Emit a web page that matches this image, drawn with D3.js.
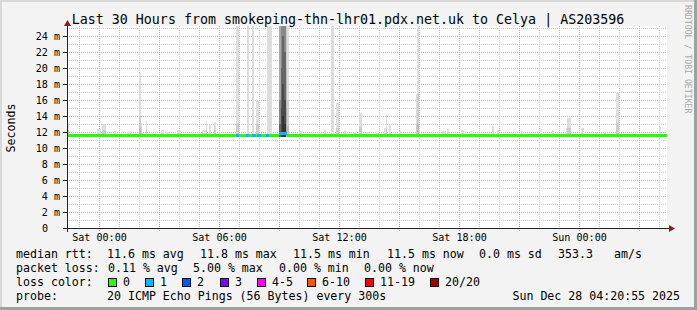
<!DOCTYPE html>
<html>
<head>
<meta charset="utf-8">
<script src="https://cdn.jsdelivr.net/npm/d3@7/dist/d3.min.js"></script>
<style>
  body { margin: 0; background: #f3f3f3; }
  text { font-family: "DejaVu Sans Mono", monospace; fill: #000; white-space: pre; }
</style>
</head>
<body>
<div id="chart"></div>
<script>
// ---- data ----
var titleText = 'Last 30 Hours from smokeping-thn-lhr01.pdx.net.uk to Celya | AS203596';
var yTicks = [0, 2, 4, 6, 8, 10, 12, 14, 16, 18, 20, 22, 24];

// minutes relative to Sat 00:00, 5 minute steps
var smokeMin   = [-95, -5, 10, 45, 85, 120, 125, 140, 185, 200, 235, 310, 320, 330, 345,
                  410, 445, 460, 470, 505, 540, 545, 550, 555, 560, 565, 600, 675, 695, 710,
                  735, 765, 780, 800, 830, 855, 860, 870, 900, 950, 955, 1030, 1045, 1085,
                  1115, 1180, 1195, 1265, 1325, 1360, 1400, 1405, 1445, 1490, 1515, 1550, 1680];
var smokeSteps = [1, 2, 2, 1, 2, 1, 1, 1, 2, 2, 2, 2, 1, 1, 1,
                  2, 1, 1, 2, 3, 1, 1, 1, 1, 1, 1, 2, 1, 2, 2,
                  1, 1, 2, 2, 2, 1, 1, 1, 1, 2, 1, 2, 1, 2,
                  1, 1, 1, 1, 1, 1, 1, 2, 2, 1, 1, 2, 1];
// ping spread per step in ms, outermost ping first
var smokeLevels = [
  [13.1, 12.3], [12.4], [13.0, 12.2], [12.1], [12.0], [19.4, 14.0, 12.5], [13.1, 12.3],
  [13.4, 12.4], [12.2], [12.0], [12.2], [12.2], [13.4, 12.3], [12.9], [13.2, 12.2],
  [30, 13], [30], [30], [15.9, 13], [30],
  [30, 30, 30, 26, 16, 13], [30, 30, 30, 30, 26, 20, 15], [30, 30, 30, 30, 30, 24, 18, 14],
  [30, 30, 30, 30, 28, 22, 16, 13], [30, 28, 20, 15], [26, 16, 12.8],
  [12.1], [12.2], [30], [15.6, 12.5], [12.2], [12.0], [14.4, 12.6], [12.0], [12.0],
  [12.5], [14.1, 12.4], [12.9], [12.1], [16.8, 13], [30, 16.8, 13], [12.1], [12.4], [12.3],
  [12.1], [12.7], [12.2], [12.3], [12.4], [12.2], [12.5], [13.7, 12.5], [12.5], [12.0],
  [12.0], [16.9, 13.2], [12.6]
];

var medianFrom = [-96, 540, 565];
var medianTo   = [540, 565, 1704];
var medianMs   = [11.55, 11.8, 11.55];

var lossMin   = [410, 440, 460, 475, 500, 540];
var lossSteps = [2, 2, 2, 2, 2, 5];
var lossCount = [1, 1, 1, 1, 1, 1];

var lossLabels = ['0', '1', '2', '3', '4-5', '6-10', '11-19', '20/20'];
var lossColors = ['#26ff00', '#00b8ff', '#0059ff', '#7e00ff', '#ff00ff', '#ff5500', '#ff0000', '#a10000'];

var rttText  = ['median rtt:', '11.6 ms avg', '11.8 ms max', '11.5 ms min', '11.5 ms now', '0.0 ms sd', '353.3', 'am/s'];
var lossText = ['packet loss:', '0.11 % avg', '5.00 % max', '0.00 % min', '0.00 % now'];
var probeText = ['probe:', '20 ICMP Echo Pings (56 Bytes) every 300s'];
var stampText = 'Sun Dec 28 04:20:55 2025';

// ---- layout ----
var W = 697, H = 310;
var sat0 = new Date(2025, 11, 27, 0, 0);
function t(min) { return d3.timeMinute.offset(sat0, min); }

var x = d3.scaleTime().domain([t(-96), t(1704)]).range([67, 667]);
var y = d3.scaleLinear().domain([0, 25.25]).range([228, 26]);

var shades = ['#dddddd', '#cccccc', '#bbbbbb', '#aaaaaa', '#888888', '#666666', '#4a4a4a', '#333333'];

var svg = d3.select('#chart').append('svg')
  .attr('width', W).attr('height', H);

// frame
svg.append('rect').attr('width', W).attr('height', H).attr('fill', '#f3f3f3');
svg.append('path').attr('d', 'M0,0H697V2H2V310H0Z').attr('fill', '#d8d8d8');
svg.append('path').attr('d', 'M697,0V310H0V307H694V0Z').attr('fill', '#a0a0a0');

// canvas
svg.append('rect')
  .attr('x', 67).attr('y', 26).attr('width', 600).attr('height', 202)
  .attr('fill', '#fff');

// grid
var grid = svg.append('g').attr('shape-rendering', 'crispEdges');
var minorY = d3.range(1, 26, 2);
grid.selectAll('.gy').data(minorY).enter().append('line')
  .attr('x1', 67).attr('x2', 667)
  .attr('y1', function(d) { return Math.round(y(d)) + 0.5; })
  .attr('y2', function(d) { return Math.round(y(d)) + 0.5; })
  .attr('stroke', '#c8c8c8').attr('stroke-dasharray', '1,1');

var hours = x.ticks(d3.timeHour.every(1));
grid.selectAll('.gx').data(hours).enter().append('line')
  .attr('x1', function(d) { return Math.round(x(d)) + 0.5; })
  .attr('x2', function(d) { return Math.round(x(d)) + 0.5; })
  .attr('y1', 26).attr('y2', function(d) { return d.getHours() % 3 ? 230 : 231; })
  .attr('stroke', function(d) { return d.getHours() % 3 ? '#c8c8c8' : '#e9a0a0'; })
  .attr('stroke-dasharray', '1,1');

grid.selectAll('.my').data(yTicks.slice(1)).enter().append('line')
  .attr('x1', 67).attr('x2', 667)
  .attr('y1', function(d) { return Math.round(y(d)) + 0.5; })
  .attr('y2', function(d) { return Math.round(y(d)) + 0.5; })
  .attr('stroke', '#e9a0a0').attr('stroke-dasharray', '1,1');

// smoke
var smoke = svg.append('g').attr('shape-rendering', 'crispEdges');
smokeMin.forEach(function(m, i) {
  var x0 = x(t(m)), x1 = x(t(m + smokeSteps[i] * 5));
  smokeLevels[i].forEach(function(v, j) {
    smoke.append('rect')
      .attr('x', x0).attr('width', x1 - x0)
      .attr('y', y(Math.min(v, 25.25)))
      .attr('height', y(11.4) - y(Math.min(v, 25.25)))
      .attr('fill', shades[j]);
  });
});

// median line
var line = d3.line()
  .x(function(d) { return x(t(d[0])); })
  .y(function(d) { return y(d[1]); })
  .curve(d3.curveStepAfter);

medianFrom.forEach(function(f, i) {
  svg.append('path')
    .attr('d', line([[f, medianMs[i]], [medianTo[i], medianMs[i]]]))
    .attr('stroke', lossColors[0]).attr('stroke-width', 3).attr('fill', 'none')
    .attr('shape-rendering', 'crispEdges');
});

lossMin.forEach(function(m, i) {
  var mid = m >= 540 && m < 565 ? medianMs[1] : medianMs[0];
  svg.append('path')
    .attr('d', line([[m, mid], [m + lossSteps[i] * 5, mid]]))
    .attr('stroke', lossColors[lossCount[i]]).attr('stroke-width', 3).attr('fill', 'none')
    .attr('shape-rendering', 'crispEdges');
});

// axes
var ax = svg.append('g').attr('shape-rendering', 'crispEdges');
ax.append('line').attr('x1', 63).attr('x2', 670).attr('y1', 228.5).attr('y2', 228.5).attr('stroke', '#222');
ax.append('line').attr('x1', 67.5).attr('x2', 67.5).attr('y1', 232).attr('y2', 25).attr('stroke', '#222');
ax.selectAll('.yt').data(yTicks).enter().append('line')
  .attr('x1', 63).attr('x2', 67)
  .attr('y1', function(d) { return Math.round(y(d)) + 0.5; })
  .attr('y2', function(d) { return Math.round(y(d)) + 0.5; })
  .attr('stroke', '#222');
svg.append('path').attr('d', 'M669,225L675,228.5L669,232Z').attr('fill', '#8b1a1a');
svg.append('path').attr('d', 'M64,26L67.5,20L71,26Z').attr('fill', '#8b1a1a');

svg.selectAll('.yl').data(yTicks).enter().append('text')
  .attr('x', function(d) { return d ? 60 : 48; })
  .attr('y', function(d) { return y(d) + 4; })
  .attr('text-anchor', 'end')
  .style('font-size', '10.1px')
  .text(function(d) { return d ? d + ' m' : '0'; });

var xAxis = d3.axisBottom(x)
  .ticks(d3.timeHour.every(6))
  .tickFormat(d3.timeFormat('%a %H:%M'))
  .tickSize(0);
var xg = svg.append('g').attr('transform', 'translate(0,231)').call(xAxis);
xg.select('.domain').remove();
xg.selectAll('text')
  .attr('dy', '0.71em').attr('y', 3)
  .style('font-family', '"DejaVu Sans Mono", monospace')
  .style('font-size', '10.1px').attr('fill', '#000');

// title and labels
svg.append('text').attr('x', 348).attr('y', 23.5).attr('text-anchor', 'middle')
  .style('font-size', '13.3px').text(titleText);

svg.append('text').attr('transform', 'translate(15,128) rotate(-90)')
  .attr('text-anchor', 'middle').style('font-size', '11.6px').text('Seconds');

svg.append('text').attr('transform', 'translate(685,5) rotate(90)')
  .style('font-size', '8.2px').style('fill', '#a8a8a8').text('RRDTOOL / TOBI OETIKER');

// legend
var legend = svg.append('g').style('font-size', '11.6px');
var rttX = [16, 107, 200, 293, 387, 479, 558, 614];
rttText.forEach(function(s, i) {
  legend.append('text').attr('x', rttX[i]).attr('y', 258).text(s);
});
var lossX = [16, 108, 193, 279, 364];
lossText.forEach(function(s, i) {
  legend.append('text').attr('x', lossX[i]).attr('y', 272).text(s);
});
legend.append('text').attr('x', 16).attr('y', 286).text('loss color:');
var boxX = [108, 145, 182, 220, 257, 307, 365, 430];
lossLabels.forEach(function(s, i) {
  legend.append('rect').attr('x', boxX[i] + 0.5).attr('y', 278.5)
    .attr('width', 8).attr('height', 8)
    .attr('fill', lossColors[i]).attr('stroke', '#000');
  legend.append('text').attr('x', boxX[i] + 15).attr('y', 286).text(s);
});
legend.append('text').attr('x', 16).attr('y', 300).text(probeText[0]);
legend.append('text').attr('x', 107).attr('y', 300).text(probeText[1]);
legend.append('text').attr('x', 680).attr('y', 300).attr('text-anchor', 'end').text(stampText);
</script>
</body>
</html>
